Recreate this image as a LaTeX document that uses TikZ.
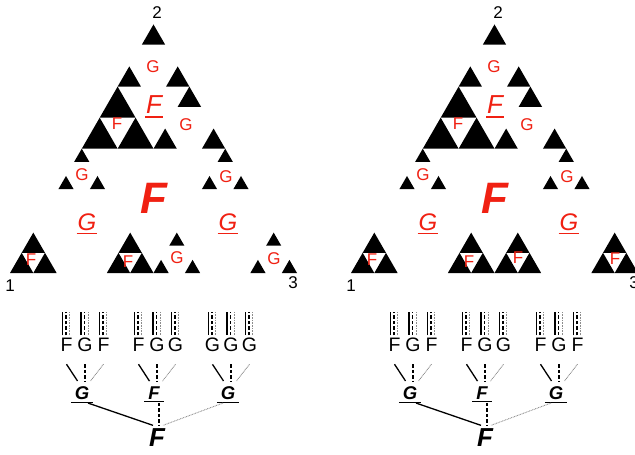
\documentclass[tikz,border=0pt]{standalone}
\usepackage{fontspec}
\setmainfont{Liberation Sans}
\definecolor{lab}{RGB}{240,32,18}
\definecolor{dotg}{RGB}{140,140,140}
% filled upward triangle: bottom-left corner (#1,#2), side #3
\newcommand\tri[3]{\fill ({#1},{#2}) -- ({(#1)+(#3)},{#2}) -- ({(#1)+0.5*(#3)},{(#2)-0.866*(#3)}) -- cycle;}
% cell of type F (three halves) and of type G (three thirds)
\newcommand\Fc[3]{\tri{#1}{#2}{0.5*(#3)}\tri{(#1)+0.25*(#3)}{(#2)-0.433*(#3)}{0.5*(#3)}\tri{(#1)+0.5*(#3)}{#2}{0.5*(#3)}}
\newcommand\Gc[3]{\tri{#1}{#2}{0.325*(#3)}\tri{(#1)+0.3375*(#3)}{(#2)-0.5846*(#3)}{0.325*(#3)}\tri{(#1)+0.675*(#3)}{#2}{0.325*(#3)}}
% red underline below a node
\newcommand\rul[1]{\draw[lab,line width=1.2pt] ([xshift=-1pt,yshift=-3pt]#1.south west) -- ([xshift=1pt,yshift=-3pt]#1.south east);}
\newcommand\kul[1]{\draw[line width=1pt] ([xshift=-4pt,yshift=-2.5pt]#1.south west) -- ([xshift=4pt,yshift=-2.5pt]#1.south east);}
% fractal panel: #1 cell macro for outer cells of right G, #2 their letter, #3 prefix
\newcommand\Fractal[3]{%
  \Fc{10}{273}{46.64}\Gc{58.43}{189.11}{46.64}\Fc{106.86}{273}{46.64}
  \Fc{81.75}{148.73}{71.75}\Gc{117.625}{86.6}{71.75}\Gc{153.5}{148.73}{71.75}
  #1{153.5}{273}{46.64}\Gc{201.93}{189.11}{46.64}#1{250.36}{273}{46.64}
  \node[vnum] (#3v2) at (157,13) {2};
  \node[vnum] (#3v1) at (10,286) {1};
  \node[vnum] (#3v3) at (293,283) {3};
  \node[big] (#3F) at (154,198) {F};
  \node[lone] (#3G1) at (87,222) {G};\rul{#3G1}
  \node[lone,font=\fontsize{26}{26}\selectfont\itshape] (#3F2) at (154,105) {F};\rul{#3F2}
  \node[lone] (#3G3) at (228,222) {G};\rul{#3G3}
  \node[small] (#3a) at (31,260) {F};
  \node[small] (#3b) at (82,175) {G};
  \node[small] (#3c) at (128,262) {F};
  \node[small] (#3d) at (117,124) {F};
  \node[small] (#3e) at (153,67) {G};
  \node[small] (#3f) at (186,125) {G};
  \node[small] (#3g) at (177,258) {#2};
  \node[small] (#3h) at (226,177) {G};
  \node[small] (#3i) at (274,259) {#2};
}
% three stub lines above a letter
\newcommand\stub[1]{%
  \draw[sol] ([xshift=-4pt,yshift=3pt]#1.north) -- ++(0,-23);
  \draw[dsh] ([xshift=-0.5pt,yshift=3pt]#1.north) -- ++(0,-23);
  \draw[dtt] ([xshift=3pt,yshift=3pt]#1.north) -- ++(0,-23);}
% fan from three letters to a parent label
\newcommand\fan[4]{%
  \coordinate (#1h) at ([xshift=3pt,yshift=5.5pt]#1.north);
  \draw[sol] ([yshift=-12.5pt]#2.south) -- ([xshift=-7.5pt]#1h);
  \draw[dsh] ([yshift=-12.5pt]#3.south) -- (#1h);
  \draw[dtt] ([yshift=-12.5pt]#4.south) -- ([xshift=5.5pt]#1h);}
% tree: #1 prefix, #2 #3 #4 letters of third group
\newcommand\Tree[4]{%
  \node[tl] (#1a1) at (66.5,345) {F};
  \node[tl] (#1a2) at (85,345) {G};
  \node[tl] (#1a3) at (103.5,345) {F};
  \node[tl] (#1b1) at (138.5,345) {F};
  \node[tl] (#1b2) at (157,345) {G};
  \node[tl] (#1b3) at (175.5,345) {G};
  \node[tl] (#1c1) at (212.5,345) {#2};
  \node[tl] (#1c2) at (231,345) {#3};
  \node[tl] (#1c3) at (249.5,345) {#4};
  \foreach \n in {a1,a2,a3,b1,b2,b3,c1,c2,c3}{\stub{#1\n}}
  \node[tlab] (#1A) at (82,393) {G};\kul{#1A}
  \node[tlab] (#1B) at (154,393) {F};\kul{#1B}
  \node[tlab] (#1C) at (228,393) {G};\kul{#1C}
  \fan{#1A}{#1a1}{#1a2}{#1a3}
  \fan{#1B}{#1b1}{#1b2}{#1b3}
  \fan{#1C}{#1c1}{#1c2}{#1c3}
  \node[troot] (#1R) at (157,438) {F};
  \coordinate (#1Rh) at ([xshift=2pt,yshift=3.7pt]#1R.north);
  \draw[sol] ([xshift=6pt,yshift=-3.5pt]#1A.south) -- ([xshift=-6pt]#1Rh);
  \draw[dsh] ([xshift=5pt,yshift=-3.5pt]#1B.south) -- (#1Rh);
  \draw[dtt] ([xshift=-5pt,yshift=-3.5pt]#1C.south) -- ([xshift=4pt]#1Rh);}
\begin{document}
\begin{tikzpicture}[x=1pt,y=-1pt,
  every node/.style={inner sep=0pt,outer sep=0pt},
  small/.style={text=lab,font=\fontsize{17}{17}\selectfont},
  lone/.style={text=lab,font=\fontsize{24}{24}\selectfont\itshape},
  big/.style={text=lab,font=\fontsize{44}{44}\selectfont\bfseries\itshape},
  vnum/.style={font=\fontsize{17}{17}\selectfont},
  tl/.style={font=\fontsize{19.5}{19.5}\selectfont},
  tlab/.style={font=\fontsize{18.5}{18.5}\selectfont\bfseries\itshape},
  troot/.style={font=\fontsize{26}{26}\selectfont\bfseries\itshape},
  sol/.style={line width=1.3pt},
  dsh/.style={line width=1.3pt,dash pattern=on 3.5pt off 2pt},
  dtt/.style={line width=0.9pt,dotg,dash pattern=on 0.8pt off 0.8pt}]
\useasboundingbox (0,0) rectangle (635,455);
\clip (0,0) rectangle (635,455);
\fill[white] (0,0) rectangle (635,455);
\Fractal{\Gc}{G}{L}
\begin{scope}[xshift=341pt]
\Fractal{\Fc}{F}{R}
\end{scope}
\Tree{TL}{G}{G}{G}
\begin{scope}[xshift=328pt]
\Tree{TR}{F}{G}{F}
\end{scope}
\end{tikzpicture}
\end{document}
